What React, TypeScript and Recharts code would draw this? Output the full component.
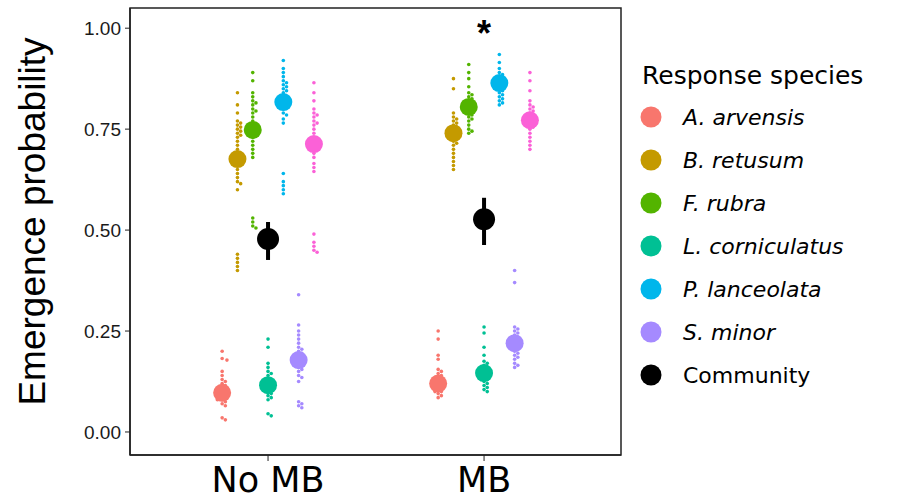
import React from 'react';
import { ScatterChart, Scatter, XAxis, YAxis, ErrorBar, ReferenceArea } from 'recharts';

// treatments on the x axis
const conditions = ['No MB', 'MB'];

// dodge groups, in plotting order (the 7th group is drawn pink, not in legend)
const groupNames = ['A. arvensis', 'B. retusum', 'F. rubra', 'L. corniculatus', 'P. lanceolata', 'S. minor', 'Community plots'];
const groupColors = ['#F8766D', '#C49A00', '#53B400', '#00C094', '#00B6EB', '#A58AFF', '#FB61D7'];

// legend entries
const legendLabels = ['A. arvensis', 'B. retusum', 'F. rubra', 'L. corniculatus', 'P. lanceolata', 'S. minor', 'Community'];
const legendColors = ['#F8766D', '#C49A00', '#53B400', '#00C094', '#00B6EB', '#A58AFF', '#000000'];
const legendItalic = [true, true, true, true, true, true, false];

// estimated means per group
const noMbMeans = [0.097, 0.676, 0.748, 0.116, 0.817, 0.178, 0.713];
const mbMeans = [0.12, 0.74, 0.805, 0.146, 0.864, 0.22, 0.772];

// community mean and interval
const communityMean = [0.478, 0.527];
const communityLow = [0.426, 0.463];
const communityHigh = [0.52, 0.58];

// raw (small) points, No MB
const noMbArvensis = [0.2, 0.182, 0.178, 0.15, 0.14, 0.13, 0.125, 0.12, 0.115, 0.11, 0.105, 0.1, 0.1, 0.095, 0.09, 0.09, 0.085, 0.08, 0.08, 0.075, 0.07, 0.065, 0.035, 0.03];
const noMbRetusum = [0.84, 0.81, 0.79, 0.77, 0.765, 0.76, 0.755, 0.75, 0.745, 0.74, 0.735, 0.73, 0.72, 0.71, 0.7, 0.69, 0.685, 0.68, 0.675, 0.67, 0.665, 0.66, 0.65, 0.64, 0.63, 0.62, 0.615, 0.6, 0.44, 0.43, 0.42, 0.41, 0.4];
const noMbRubra = [0.89, 0.87, 0.84, 0.83, 0.82, 0.815, 0.81, 0.8, 0.795, 0.79, 0.78, 0.77, 0.76, 0.755, 0.75, 0.745, 0.74, 0.735, 0.73, 0.72, 0.71, 0.7, 0.69, 0.68, 0.53, 0.52, 0.51, 0.505];
const noMbCorniculatus = [0.23, 0.21, 0.17, 0.16, 0.15, 0.145, 0.14, 0.13, 0.125, 0.12, 0.115, 0.11, 0.105, 0.1, 0.095, 0.09, 0.085, 0.08, 0.045, 0.04];
const noMbLanceolata = [0.92, 0.9, 0.89, 0.88, 0.87, 0.865, 0.86, 0.855, 0.85, 0.845, 0.84, 0.83, 0.825, 0.82, 0.815, 0.81, 0.8, 0.79, 0.785, 0.775, 0.765, 0.64, 0.62, 0.61, 0.6, 0.59];
const noMbMinor = [0.34, 0.265, 0.25, 0.24, 0.23, 0.22, 0.21, 0.205, 0.2, 0.195, 0.19, 0.185, 0.18, 0.175, 0.17, 0.165, 0.16, 0.155, 0.15, 0.14, 0.135, 0.125, 0.075, 0.07, 0.065, 0.06];
const noMbPlots = [0.865, 0.84, 0.82, 0.8, 0.79, 0.785, 0.78, 0.77, 0.765, 0.76, 0.75, 0.74, 0.73, 0.72, 0.715, 0.71, 0.7, 0.69, 0.68, 0.665, 0.655, 0.645, 0.49, 0.47, 0.46, 0.45, 0.445];

// raw (small) points, MB
const mbArvensis = [0.25, 0.23, 0.19, 0.18, 0.155, 0.15, 0.145, 0.14, 0.135, 0.13, 0.125, 0.12, 0.115, 0.11, 0.105, 0.1, 0.1, 0.095, 0.09, 0.085];
const mbRetusum = [0.875, 0.85, 0.79, 0.78, 0.775, 0.77, 0.765, 0.76, 0.755, 0.75, 0.745, 0.74, 0.735, 0.73, 0.725, 0.72, 0.715, 0.71, 0.7, 0.69, 0.68, 0.67, 0.66, 0.65];
const mbRubra = [0.91, 0.89, 0.875, 0.855, 0.84, 0.835, 0.83, 0.825, 0.82, 0.815, 0.81, 0.805, 0.8, 0.795, 0.79, 0.785, 0.78, 0.775, 0.77, 0.76, 0.75, 0.745, 0.74];
const mbCorniculatus = [0.26, 0.245, 0.21, 0.19, 0.175, 0.17, 0.165, 0.16, 0.155, 0.15, 0.145, 0.14, 0.135, 0.13, 0.125, 0.12, 0.115, 0.11, 0.105, 0.1];
const mbLanceolata = [0.935, 0.915, 0.9, 0.89, 0.885, 0.88, 0.875, 0.87, 0.865, 0.86, 0.855, 0.85, 0.845, 0.84, 0.835, 0.83, 0.825, 0.82, 0.815, 0.81];
const mbMinor = [0.4, 0.37, 0.26, 0.255, 0.25, 0.245, 0.24, 0.235, 0.23, 0.225, 0.22, 0.215, 0.21, 0.205, 0.2, 0.195, 0.19, 0.185, 0.18, 0.17, 0.165, 0.16];
const mbPlots = [0.89, 0.87, 0.845, 0.82, 0.81, 0.805, 0.8, 0.795, 0.79, 0.785, 0.78, 0.775, 0.77, 0.765, 0.76, 0.755, 0.75, 0.74, 0.73, 0.72, 0.71, 0.7];

const yTicks = [0, 0.25, 0.5, 0.75, 1];

const rawNoMb = [noMbArvensis, noMbRetusum, noMbRubra, noMbCorniculatus, noMbLanceolata, noMbMinor, noMbPlots];
const rawMb = [mbArvensis, mbRetusum, mbRubra, mbCorniculatus, mbLanceolata, mbMinor, mbPlots];

const W = 902;
const H = 502;
const Y_MIN = -0.057;
const Y_MAX = 1.05;
const X_MIN = 0.361;
const X_MAX = 2.634;
const DODGE = 0.0708;
const PLOT_H = 455 - 8;
const pxPerY = PLOT_H / (Y_MAX - Y_MIN);

// simple beeswarm: horizontal pixel offsets so small points don't overlap
function swarm(values: number[]): number[] {
  const order = values.map((_, i) => i).sort((a, b) => values[b] - values[a]);
  const dx = new Array(values.length).fill(0);
  const placed: { x: number; y: number }[] = [];
  const D = 3.6;
  const STEP = 1.6;
  for (const i of order) {
    const y = values[i] * pxPerY;
    let k = 0;
    for (;;) {
      const off = k === 0 ? 0 : (k % 2 ? 1 : -1) * Math.ceil(k / 2) * STEP;
      if (placed.every((p) => (p.x - off) ** 2 + (p.y - y) ** 2 >= D * D)) {
        dx[i] = off;
        placed.push({ x: off, y });
        break;
      }
      k++;
    }
  }
  return dx;
}

const rawSeries = groupNames.map((_, g) => {
  const pts: { x: number; y: number; dx: number }[] = [];
  [rawNoMb[g], rawMb[g]].forEach((vals, c) => {
    const dx = swarm(vals);
    vals.forEach((v, i) => pts.push({ x: c + 1 + (g - 3) * DODGE, y: v, dx: dx[i] }));
  });
  return pts;
});

const meanSeries = groupNames.map((_, g) => [
  { x: 1 + (g - 3) * DODGE, y: noMbMeans[g] },
  { x: 2 + (g - 3) * DODGE, y: mbMeans[g] },
]);

const communityData = conditions.map((_, c) => ({
  x: c + 1,
  y: communityMean[c],
  err: [communityMean[c] - communityLow[c], communityHigh[c] - communityMean[c]],
}));

const starData = [{ x: 2, y: 1.0 }];

const SmallDot = (color: string) => (props: any) => (
  <circle cx={props.cx + (props.payload?.dx ?? 0)} cy={props.cy} r={1.8} fill={color} />
);

const BigDot = (color: string, r: number) => (props: any) => (
  <circle cx={props.cx} cy={props.cy} r={r} fill={color} />
);

const Star = (props: any) => (
  <text x={props.cx} y={props.cy + 18} textAnchor="middle" fontSize={36} fontWeight="bold"
    fontFamily="Liberation Sans, Arial, sans-serif" fill="#000">*</text>
);

const YLabel = (props: any) => {
  const vb = props.viewBox || { x: 0, y: 8, height: PLOT_H };
  const cx = 32;
  const cy = vb.y + vb.height / 2 - 10;
  return (
    <text x={cx} y={cy} transform={`rotate(-90, ${cx}, ${cy})`} textAnchor="middle" dominantBaseline="central"
      fontSize={37} fontFamily="Liberation Sans, Arial, sans-serif" fill="#000">
      Emergence probability
    </text>
  );
};

const LegendBox = () => (
  <svg width={270} height={400} style={{ position: 'absolute', left: 632, top: 40 }}>
    <text x={10} y={35} fontSize={25} fontFamily="DejaVu Sans, Verdana, sans-serif" dominantBaseline="central" fill="#000">
      Response species
    </text>
    {legendLabels.map((lab, i) => (
      <g key={lab}>
        <circle cx={19} cy={77 + i * 43} r={10.5} fill={legendColors[i]} />
        <text x={51} y={77 + i * 43} fontSize={22} fontStyle={legendItalic[i] ? 'italic' : 'normal'}
          fontFamily="DejaVu Sans, Verdana, sans-serif" dominantBaseline="central" fill="#000">
          {lab}
        </text>
      </g>
    ))}
  </svg>
);

export default function App() {
  return (
    <div style={{ position: 'absolute', left: 0, top: 0, width: W, height: H, background: '#fff' }}>
      <ScatterChart width={W} height={H} margin={{ top: 8, right: 281, bottom: 0, left: 0 }}>
        <XAxis type="number" dataKey="x" domain={[X_MIN, X_MAX]} ticks={[1, 2]} allowDataOverflow
          tickFormatter={(v: number) => conditions[Math.round(v) - 1] ?? ''} height={47}
          tickSize={6} tickMargin={6} stroke="#222" axisLine={{ stroke: '#222', strokeWidth: 1.5 }}
          tick={{ fontSize: 35, fill: '#000', fontFamily: 'DejaVu Sans, Verdana, sans-serif' }} />
        <YAxis type="number" dataKey="y" domain={[Y_MIN, Y_MAX]} ticks={yTicks} allowDataOverflow width={130}
          tickFormatter={(v: number) => v.toFixed(2)} tickSize={5} tickMargin={4} stroke="#222"
          axisLine={{ stroke: '#222', strokeWidth: 1.5 }}
          tick={{ fontSize: 19, fill: '#1a1a1a', fontFamily: 'Liberation Sans, Arial, sans-serif' }}
          label={<YLabel />} />
        <ReferenceArea x1={X_MIN} x2={X_MAX} y1={Y_MIN} y2={Y_MAX} fill="none" stroke="#222" strokeWidth={1.5}
          ifOverflow="visible" />
        {rawSeries.map((pts, g) => (
          <Scatter key={'raw' + g} data={pts} shape={SmallDot(groupColors[g])} isAnimationActive={false} />
        ))}
        {meanSeries.map((pts, g) => (
          <Scatter key={'mean' + g} data={pts} shape={BigDot(groupColors[g], 9)} isAnimationActive={false} />
        ))}
        <Scatter data={communityData} shape={BigDot('#000', 11)} isAnimationActive={false}>
          <ErrorBar dataKey="err" direction="y" width={0} strokeWidth={4} stroke="#000" isAnimationActive={false} />
        </Scatter>
        <Scatter data={starData} shape={Star} isAnimationActive={false} />
      </ScatterChart>
      <LegendBox />
    </div>
  );
}
